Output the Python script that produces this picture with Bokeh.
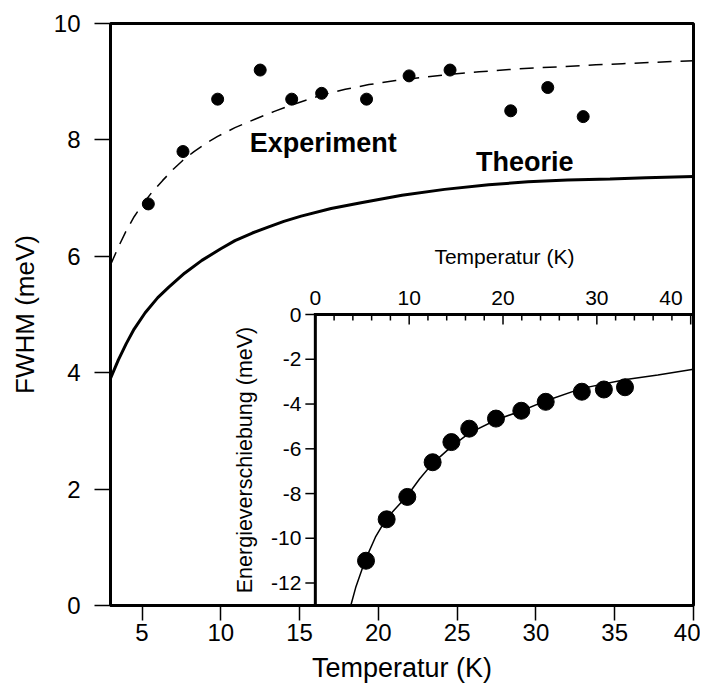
import numpy as np
from bokeh.plotting import figure
from bokeh.models import Range1d, FixedTicker, Label
from bokeh.embed import file_html
from bokeh.resources import INLINE
from bokeh.core.properties import value

# ---------------- data ----------------
temp_k = [5.4, 7.6, 9.8, 12.5, 14.5, 16.4, 19.25, 21.95, 24.55, 28.4, 30.75, 33.0]
fwhm_exp = [6.9, 7.8, 8.7, 9.2, 8.7, 8.8, 8.7, 9.1, 9.2, 8.5, 8.9, 8.4]
shift_exp = [-11.0, -9.15, -8.15, -6.6, -5.7, -5.1, -4.65, -4.3, -3.9, -3.45, -3.35, -3.25]

fit_t = [3.0, 3.5, 4.0, 4.5, 5.0, 5.6, 6.3, 7.0, 7.6, 8.3, 9.0, 9.8, 10.9, 12.2, 13.4, 14.5,
         15.5, 16.4, 17.9, 19.4, 21.1, 23.0, 24.6, 26.4, 28.3, 30.2, 31.9, 33.8, 35.5, 37.2,
         39.0, 40.0]
fit_fwhm = [5.85, 6.16, 6.44, 6.68, 6.88, 7.09, 7.3, 7.5, 7.65, 7.8, 7.93, 8.06, 8.21, 8.36,
            8.49, 8.6, 8.69, 8.77, 8.87, 8.95, 9.02, 9.08, 9.13, 9.17, 9.21, 9.24, 9.26, 9.29,
            9.31, 9.33, 9.35, 9.36]

theo_t = [3.0, 3.5, 4.0, 4.5, 5.2, 6.0, 6.7, 7.7, 8.8, 10.0, 10.9, 12.0, 13.0, 14.0, 15.1,
          17.0, 18.9, 21.5, 24.2, 27.0, 29.5, 32.0, 34.7, 37.0, 40.0]
theo_fwhm = [3.9, 4.22, 4.5, 4.75, 5.03, 5.29, 5.47, 5.71, 5.93, 6.13, 6.27, 6.4, 6.5, 6.6,
             6.69, 6.82, 6.92, 7.05, 7.15, 7.23, 7.28, 7.31, 7.33, 7.35, 7.37]

shift_fit_t = [3.78, 4.3, 5.34, 6.4, 7.6, 8.7, 9.8, 11.1, 12.5, 14.5, 16.4, 19.3, 22.0,
               24.6, 28.4, 33.1, 36.5, 40.3]
shift_fit = [-13.0, -12.2, -10.95, -9.95, -9.1, -8.6, -8.1, -7.35, -6.65, -5.9, -5.3, -4.7,
             -4.3, -3.85, -3.3, -2.9, -2.7, -2.45]

x_ticks = [5, 10, 15, 20, 25, 30, 35, 40]
y_ticks = [0, 2, 4, 6, 8, 10]
inset_x_ticks = [0, 10, 20, 30, 40]
inset_x_minor = [2, 4, 6, 8, 12, 14, 16, 18, 22, 24, 26, 28, 32, 34, 36, 38]
inset_y_ticks = [0, -2, -4, -6, -8, -10, -12]

# ---------------- layout constants ----------------
X_MAIN = (3, 40)
Y_MAIN = (0, 10)
INSET_BOX_X = (16, 40)      # inset position in main data coordinates
INSET_BOX_Y = (0, 5)
INSET_X = (0, 40.3)
INSET_Y = (-13, 0)

FONT = "Liberation Sans"

p = figure(width=700, height=688, output_backend="svg", toolbar_location=None,
           x_range=Range1d(*X_MAIN), y_range=Range1d(*Y_MAIN),
           min_border_left=110, min_border_right=7, min_border_top=23, min_border_bottom=83)
p.background_fill_color = "white"
p.border_fill_color = "white"
p.outline_line_color = "black"
p.outline_line_width = 3
p.xgrid.visible = False
p.ygrid.visible = False

for ax in (p.xaxis[0], p.yaxis[0]):
    ax.axis_line_width = 3
    ax.axis_line_color = "black"
    ax.major_tick_line_width = 1.5
    ax.major_tick_line_color = "black"
    ax.major_tick_in = 0
    ax.minor_tick_line_color = None
    ax.major_label_text_font = FONT
    ax.major_label_text_font_size = "24px"
    ax.major_label_text_color = "black"
    ax.axis_label_text_font = FONT
    ax.axis_label_text_font_size = "26px"
    ax.axis_label_text_font_style = "normal"
    ax.axis_label_text_color = "black"

p.xaxis.ticker = FixedTicker(ticks=x_ticks)
p.xaxis.major_tick_out = 15
p.xaxis.major_label_standoff = 3
p.xaxis.axis_label = "Temperatur (K)"
p.xaxis.axis_label_text_font_size = "27px"
p.xaxis.axis_label_standoff = 9

p.yaxis.ticker = FixedTicker(ticks=y_ticks)
p.yaxis.major_tick_out = 16
p.yaxis.major_label_standoff = 14
p.yaxis.axis_label = "FWHM (meV)"
p.yaxis.axis_label_standoff = 11

# main curves
p.line(fit_t, fit_fwhm, line_color="black", line_width=1.5, line_dash="14 9")
p.line(theo_t, theo_fwhm, line_color="black", line_width=3)
p.scatter(temp_k, fwhm_exp, size=12, marker="circle", fill_color="black", line_color="black")

p.add_layout(Label(x=11.83, y=7.94, text="Experiment", text_font=FONT, text_font_size="27px",
                   text_font_style="bold", text_color="black",
                   text_baseline="alphabetic", text_align="left"))
p.add_layout(Label(x=26.19, y=7.615, text="Theorie", text_font=FONT, text_font_size="27px",
                   text_font_style="bold", text_color="black",
                   text_baseline="alphabetic", text_align="left"))

# ---------------- inset: extra ranges covering the whole frame ----------------
def extend(src, box, full):
    s0, s1 = src
    b0, b1 = box
    k = (s1 - s0) / (b1 - b0)
    return Range1d(s0 + (full[0] - b0) * k, s0 + (full[1] - b0) * k)

p.extra_x_ranges = {"ix": extend(INSET_X, INSET_BOX_X, X_MAIN)}
p.extra_y_ranges = {"iy": extend(INSET_Y, INSET_BOX_Y, Y_MAIN)}
IR = dict(x_range_name="ix", y_range_name="iy")

# inset tick lengths converted from pixels to inset data units
sx = (INSET_BOX_X[1] - INSET_BOX_X[0]) / (INSET_X[1] - INSET_X[0]) * 15.78
sy = (INSET_BOX_Y[1] - INSET_BOX_Y[0]) / (INSET_Y[1] - INSET_Y[0]) * 58.2
maj_len_y = 10 / sy
min_len_y = 6 / sy
ytick_len = 10 / sx

# top axis ticks (inward)
p.segment(x0=inset_x_ticks, y0=[INSET_Y[1]] * len(inset_x_ticks),
          x1=inset_x_ticks, y1=[INSET_Y[1] - maj_len_y] * len(inset_x_ticks),
          line_color="black", line_width=1.5, **IR)
p.segment(x0=inset_x_minor, y0=[INSET_Y[1]] * len(inset_x_minor),
          x1=inset_x_minor, y1=[INSET_Y[1] - min_len_y] * len(inset_x_minor),
          line_color="black", line_width=1.5, **IR)
# left axis ticks (outward)
p.segment(x0=[INSET_X[0]] * len(inset_y_ticks), y0=inset_y_ticks,
          x1=[INSET_X[0] - ytick_len] * len(inset_y_ticks), y1=inset_y_ticks,
          line_color="black", line_width=1.5, **IR)

# inset border (left and top)
p.line([INSET_X[0], INSET_X[0], INSET_X[1]], [INSET_Y[0], INSET_Y[1], INSET_Y[1]],
       line_color="black", line_width=3, line_join="miter", **IR)

TXT = dict(text_font=value(FONT), text_color="black")

# inset tick labels
p.text(x=inset_x_ticks[:-1], y=[INSET_Y[1]] * (len(inset_x_ticks) - 1),
       text=[str(t) for t in inset_x_ticks[:-1]], text_font_size="21px",
       text_align="center", text_baseline="alphabetic", y_offset=-17, **TXT, **IR)
p.text(x=[inset_x_ticks[-1]], y=[INSET_Y[1]], text=[str(inset_x_ticks[-1])],
       text_font_size="21px", text_align="right", text_baseline="alphabetic",
       x_offset=-8, y_offset=-17, **TXT, **IR)
p.text(x=[INSET_X[0]] * len(inset_y_ticks), y=inset_y_ticks,
       text=[str(t) for t in inset_y_ticks], text_font_size="21px",
       text_align="right", text_baseline="middle", x_offset=-14, **TXT, **IR)

# inset axis titles
p.text(x=[(INSET_X[0] + INSET_X[1]) / 2], y=[INSET_Y[1]], text=["Temperatur (K)"],
       text_font_size="21px", text_align="center",
       text_baseline="middle", y_offset=-58, **TXT, **IR)
p.text(x=[INSET_X[0]], y=[(INSET_Y[0] + INSET_Y[1]) / 2], text=["Energieverschiebung (meV)"],
       text_font_size="21.5px", text_align="center",
       text_baseline="middle", angle=np.pi / 2, x_offset=-70, **TXT, **IR)

# inset data
p.line(shift_fit_t, shift_fit, line_color="black", line_width=1.5, **IR)
p.scatter(temp_k, shift_exp, size=17, marker="circle", fill_color="black",
          line_color="black", **IR)

open("out.html", "w").write(file_html(p, INLINE))
